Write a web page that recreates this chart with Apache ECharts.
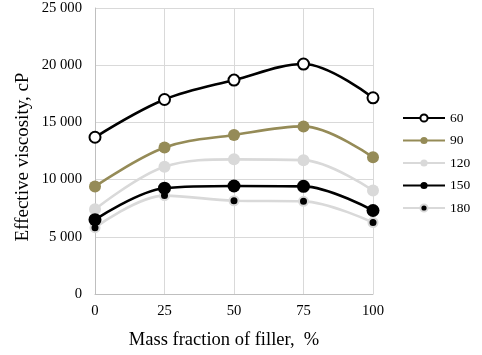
<!DOCTYPE html>
<html><head><meta charset="utf-8">
<script src="https://cdn.jsdelivr.net/npm/echarts@6/dist/echarts.min.js"></script>
<style>html,body{margin:0;padding:0;background:#fff}#c{width:482px;height:355px}</style>
</head><body><div id="c"></div>
<script>
var categories = ['0', '25', '50', '75', '100'];
var seriesNames = ['60', '90', '120', '150', '180'];
var s60 = [13700, 17000, 18700, 20100, 17150];
var s90 = [9400, 12800, 13900, 14650, 11950];
var s120 = [7400, 11130, 11770, 11700, 9050];
var s150 = [6500, 9250, 9440, 9410, 7300];
var s180 = [5800, 8600, 8150, 8100, 6250];
var yTicks = {min: 0, max: 25000, interval: 5000};
var xTitle = 'Mass fraction of filler,  %';
var yTitle = 'Effective viscosity, cP';

var font = 'Liberation Serif';
function fmt(v){ return String(v).replace(/\B(?=(\d{3})+(?!\d))/g, ' '); }
function mk(name, data, lineColor, fill, border, bw, size, z){
  return {name: name, type: 'line', data: data, smooth: 0.35, z: z,
    symbol: 'circle', symbolSize: size,
    lineStyle: {color: lineColor, width: 2.6},
    itemStyle: {color: fill, borderColor: border, borderWidth: bw},
    emphasis: {disabled: true}};
}
var chart = echarts.init(document.getElementById('c'));
chart.setOption({
  animation: false,
  grid: {left: 95, right: 109, top: 8, bottom: 61},
  legend: {orient: 'vertical', left: 397, top: 106, padding: 5, itemWidth: 42, itemHeight: 9, itemGap: 8.5,
    textStyle: {fontFamily: font, fontSize: 13.5, lineHeight: 14, color: '#000'},
    data: seriesNames},
  graphic: [
    {type: 'text', x: 224, y: 340, style: {text: xTitle, font: '18.5px "Liberation Serif"', fill: '#000', align: 'center', verticalAlign: 'middle'}},
    {type: 'text', x: 23, y: 157, rotation: Math.PI / 2, style: {text: yTitle, font: '19px "Liberation Serif"', fill: '#000', align: 'center', verticalAlign: 'middle'}}
  ],
  xAxis: {type: 'category', data: categories, boundaryGap: false,
    axisLine: {lineStyle: {color: '#BFBFBF'}}, axisTick: {show: false},
    splitLine: {show: true, lineStyle: {color: '#D9D9D9'}},
    axisLabel: {fontFamily: font, fontSize: 14.67, color: '#000', margin: 10}},
  yAxis: {type: 'value', min: yTicks.min, max: yTicks.max, interval: yTicks.interval,
    axisLine: {show: true, lineStyle: {color: '#BFBFBF'}}, axisTick: {show: false},
    splitLine: {lineStyle: {color: '#D9D9D9'}},
    axisLabel: {fontFamily: font, fontSize: 14.67, color: '#000', margin: 13, formatter: fmt}},
  series: [
    mk('60', s60, '#000000', '#FFFFFF', '#000000', 2, 11, 5),
    mk('90', s90, '#958B57', '#958B57', '#958B57', 0, 12, 4),
    mk('120', s120, '#D9D9D9', '#D9D9D9', '#D9D9D9', 0, 12, 3),
    mk('150', s150, '#000000', '#000000', '#000000', 0, 13, 6),
    mk('180', s180, '#D9D9D9', '#000000', '#D9D9D9', 2, 9, 2)
  ]
});
</script></body></html>
